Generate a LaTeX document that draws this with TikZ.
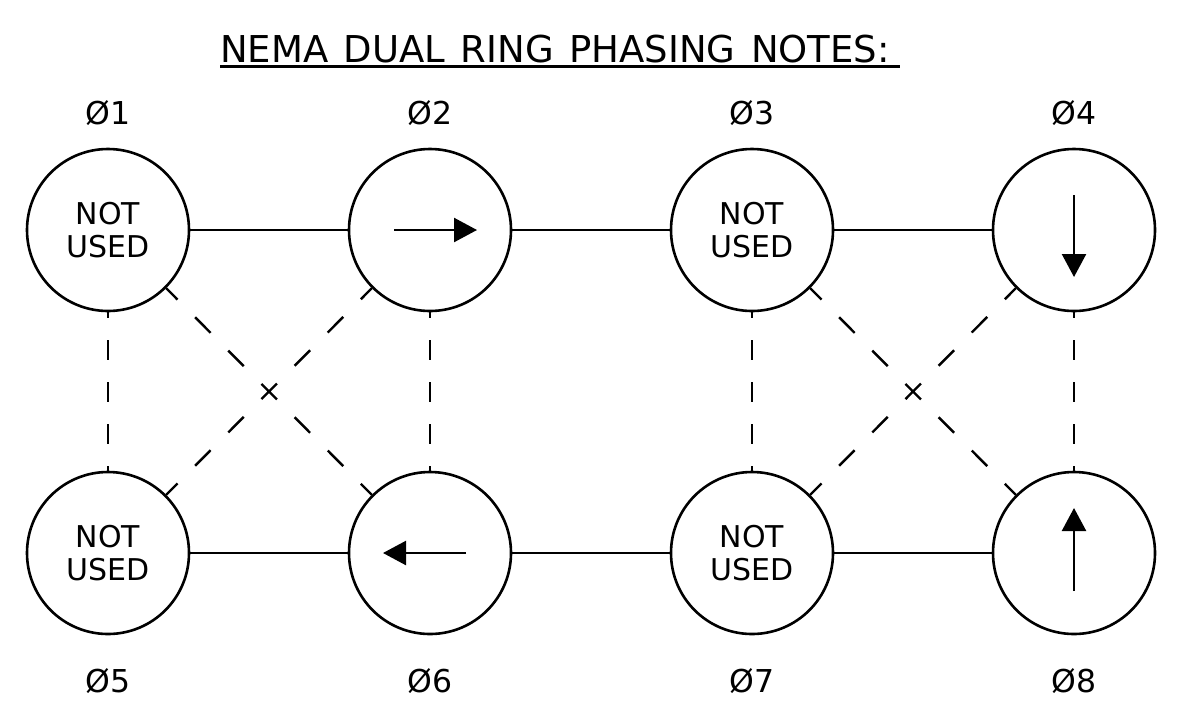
\documentclass[tikz,border=0pt]{standalone}
\usepackage{fontspec}
\setmainfont{DejaVu Sans}
\usetikzlibrary{arrows.meta,positioning}
\begin{document}
\begin{tikzpicture}[x=1pt,y=-1pt,line cap=butt,line join=miter,>={Triangle[length=23pt,width=24pt]}]
\tikzset{ring/.style={circle,draw,line width=2.6pt,minimum size=162pt,inner sep=0pt,align=center,font=\fontsize{30}{33}\selectfont},
phase/.style={inner sep=0pt,text height=23pt,text depth=0pt,font=\fontsize{31.5}{34}\selectfont},
tie/.style={line width=2.4pt},
vdash/.style={line width=2.4pt,dash pattern=on 20pt off 22pt,dash phase=14pt},
xdash/.style={line width=2.4pt,dash pattern=on 22pt off 25pt,dash phase=6pt},
pointer/.style={line width=2.4pt,->}
}
\useasboundingbox (0,0) rectangle (1177,716);
\node[anchor=base west,inner sep=0pt,font=\fontsize{37}{40}\selectfont] (title) at (220,62) {\spaceskip 15.5pt\relax NEMA DUAL RING PHASING NOTES:};
\draw[line width=3pt] ([yshift=-4pt]title.base west) -- ([yshift=-4pt,xshift=10pt]title.base east);
% ring 1
\node[ring] (p1) at (108,230) {NOT\\USED};
\node[ring] (p2) at (430,230) {};
\node[ring] (p3) at (752,230) {NOT\\USED};
\node[ring] (p4) at (1074,230) {};
% ring 2
\node[ring] (p5) at (108,553) {NOT\\USED};
\node[ring] (p6) at (430,553) {};
\node[ring] (p7) at (752,553) {NOT\\USED};
\node[ring] (p8) at (1074,553) {};
\foreach \i in {1,...,4}{
\node[phase,above=23pt of p\i] (l\i) {Ø\i};
}
\foreach \i in {5,...,8}{
\node[phase,below=34pt of p\i] (l\i) {Ø\i};
}
\draw[tie] (p1)--(p2) (p2)--(p3) (p3)--(p4)
(p5)--(p6) (p6)--(p7) (p7)--(p8);
\foreach \i/\j in {1/5,2/6,3/7,4/8}{
\draw[vdash] (p\i)--(p\j);
}
\draw[xdash] (p1.-45)--(p6.135) (p5.45)--(p2.-135)
(p3.-45)--(p8.135) (p7.45)--(p4.-135);
% movements
\draw[pointer] ([xshift=-36pt]p2.center)--([xshift=47pt]p2.center);
\draw[pointer] ([xshift=36pt]p6.center)--([xshift=-47pt]p6.center);
\draw[pointer] ([yshift=35pt]p4.center)--([yshift=-47pt]p4.center);
\draw[pointer] ([yshift=-38pt]p8.center)--([yshift=45pt]p8.center);
\end{tikzpicture}
\end{document}
